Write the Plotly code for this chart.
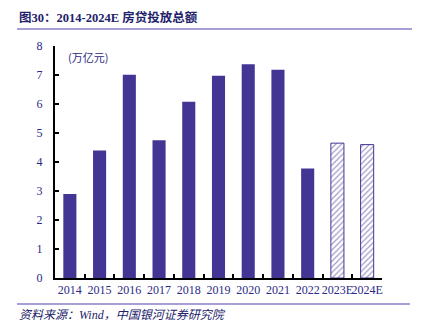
import plotly.graph_objects as go

years = ["2014", "2015", "2016", "2017", "2018", "2019", "2020", "2021", "2022", "2023E", "2024E"]
actual_values = [2.90, 4.40, 7.01, 4.75, 6.08, 6.97, 7.37, 7.18, 3.78, None, None]
estimate_values = [None, None, None, None, None, None, None, None, None, 4.65, 4.60]

W, H = 428, 326
L, R, T, B = 55, 46, 46, 48
pw, ph = W - L - R, H - T - B

def px(x):
    return (x - L) / pw

def py(y):
    return (H - B - y) / ph

navy = "#433593"
text_navy = "#2b2a86"
serif = "Liberation Serif, Times New Roman, Noto Serif CJK SC, Noto Sans CJK SC, serif"

fig = go.Figure()
fig.add_trace(go.Bar(x=years, y=actual_values, marker=dict(color=navy, line=dict(width=0)),
                     width=0.44, showlegend=False))
fig.add_trace(go.Bar(x=years, y=estimate_values,
                     marker=dict(color="white", line=dict(color=navy, width=1),
                                 pattern=dict(shape="/", fgcolor=navy, bgcolor="white", size=4, solidity=0.3)),
                     width=0.44, showlegend=False))

fig.update_layout(
    width=W, height=H,
    margin=dict(l=L, r=R, t=T, b=B),
    paper_bgcolor="white", plot_bgcolor="white",
    barmode="overlay",
    font=dict(family=serif, color=text_navy, size=12),
    xaxis=dict(type="category", showline=True, linecolor="black", linewidth=2,
               ticks="inside", tickson="boundaries", ticklen=4, tickcolor="black", tickwidth=1.5,
               showgrid=False, tickfont=dict(size=12, color=text_navy), range=[-0.5, 10.5],
               tickangle=0),
    yaxis=dict(range=[0, 8], dtick=1, showline=True, linecolor="black", linewidth=2,
               ticks="inside", ticklen=4, tickcolor="black", tickwidth=1.5,
               showgrid=False, zeroline=False, tickfont=dict(size=12, color=text_navy),
               ticklabelstandoff=8),
)

fig.add_annotation(x=px(17), y=py(17), xref="paper", yref="paper", xanchor="left", yanchor="middle",
                   text="<b>图30：2014-2024E 房贷投放总额</b>", showarrow=False,
                   font=dict(size=12.5, color="#22226a", family="Liberation Serif, Noto Sans CJK SC, serif"))
fig.add_annotation(x=px(66), y=py(57), xref="paper", yref="paper", xanchor="left", yanchor="middle",
                   text="(万亿元)", showarrow=False,
                   font=dict(size=11, color=text_navy, family="Noto Sans CJK SC, serif"))
fig.add_annotation(x=px(17), y=py(315), xref="paper", yref="paper", xanchor="left", yanchor="middle",
                   text="<i>资料来源：Wind，中国银河证券研究院</i>", showarrow=False,
                   font=dict(size=12, color="#22226a", family="Liberation Serif, Noto Sans CJK SC, serif"))

fig.add_shape(type="line", xref="paper", yref="paper", x0=px(17), x1=px(412), y0=py(29), y1=py(29),
              line=dict(color="#8a80c8", width=1.5))
fig.add_shape(type="line", xref="paper", yref="paper", x0=px(17), x1=px(410), y0=py(304), y1=py(304),
              line=dict(color="#8a80c8", width=1.5))

fig.write_html("out.html")
